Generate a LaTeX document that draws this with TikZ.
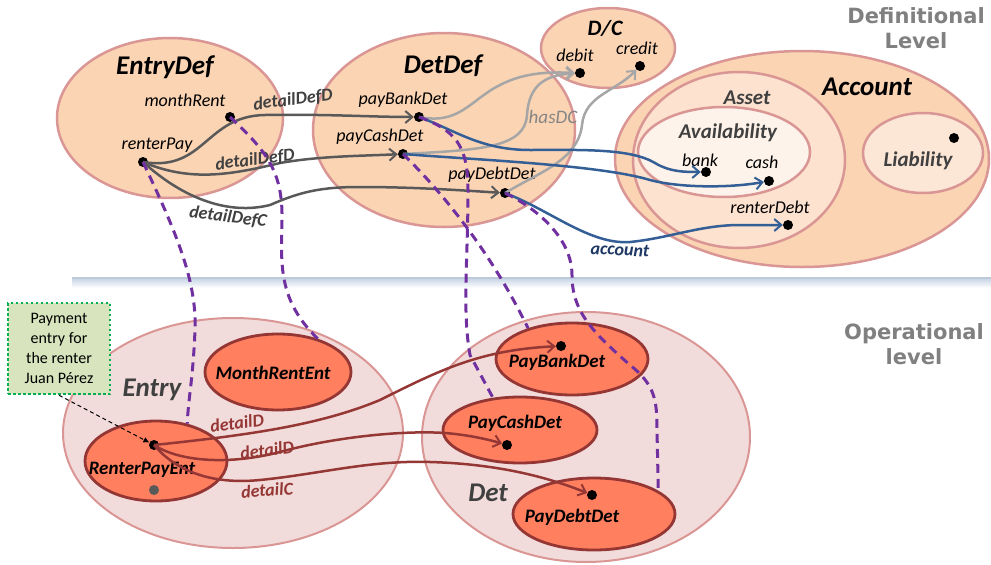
\documentclass[tikz,border=0pt]{standalone}
\usepackage{fontspec}
\setmainfont{Carlito}
\newfontfamily\levelfont{DejaVu Sans}
\usetikzlibrary{shapes.geometric,arrows.meta}
\definecolor{peach}{HTML}{FBD4B4}
\definecolor{assetfill}{HTML}{FCE2CF}
\definecolor{availfill}{HTML}{FEF3EA}
\definecolor{liabfill}{HTML}{FCE6D6}
\definecolor{rosy}{HTML}{D99694}
\definecolor{opfill}{HTML}{F2DCDB}
\definecolor{coral}{HTML}{FF7F5F}
\definecolor{darkred}{HTML}{943634}
\definecolor{conngrey}{HTML}{595959}
\definecolor{lightconn}{HTML}{A6A6A6}
\definecolor{connblue}{HTML}{335F96}
\definecolor{accblue}{HTML}{1F3864}
\definecolor{redconn}{HTML}{953735}
\definecolor{dashpurple}{HTML}{7030A0}
\definecolor{txtgrey}{HTML}{404040}
\definecolor{levelgrey}{HTML}{808080}
\definecolor{notefill}{HTML}{D7E4BD}
\definecolor{notegreen}{HTML}{00B050}
\definecolor{sepblue}{HTML}{C3D1E3}
\tikzset{
  ell/.style 2 args={ellipse,inner sep=0pt,minimum width=#1pt,minimum height=#2pt},
  topell/.style={draw=rosy,line width=2.5pt,fill=peach},
  opell/.style={draw=rosy,line width=2pt,fill=opfill},
  inell/.style={draw=darkred,line width=2.8pt,fill=coral},
  dot/.style={circle,fill=black,inner sep=0pt,minimum size=10pt},
  head/.style={font=\fontsize{27}{27}\selectfont\bfseries\itshape,inner sep=0pt},
  subhead/.style={font=\fontsize{21}{21}\selectfont\bfseries\itshape,inner sep=0pt,text=txtgrey},
  lbl/.style={font=\fontsize{18}{18}\selectfont\itshape,inner sep=0pt},
  conlbl/.style={font=\fontsize{18}{18}\selectfont\bfseries\itshape,inner sep=0pt},
  inlbl/.style={font=\fontsize{19}{19}\selectfont\bfseries\itshape,inner sep=0pt},
  barb/.style={-{Straight Barb[length=7pt,width=12pt,line width=2pt]}},
  greyconn/.style={barb,draw=conngrey,line width=2.5pt},
  lightc/.style={barb,draw=lightconn,line width=2.5pt},
  bluec/.style={barb,draw=connblue,line width=2.5pt},
  redc/.style={barb,draw=redconn,line width=2.5pt},
  typeof/.style={draw=dashpurple,line width=3pt,dash pattern=on 9pt off 6pt},
  level/.style={font=\fontsize{21}{25}\selectfont\levelfont\bfseries,text=levelgrey,align=center,inner sep=0pt}
}
\begin{document}
\begin{tikzpicture}[x=1pt,y=-1pt]
\useasboundingbox (0,0) rectangle (991,565);
% ---------- Definitional level ellipses
\node[topell,ell={226}{160}] (entrydef) at (170,118) {};
\node[topell,ell={262}{194}] (detdef) at (444,130) {};
\node[topell,ell={134}{80}] (dc) at (608,48) {};
\node[topell,ell={374}{216}] (account) at (802,159) {};
\node[draw=rosy,line width=2.5pt,fill=assetfill,ell={212}{176}] (asset) at (739,160) {};
\node[draw=rosy,line width=2.5pt,fill=availfill,ell={172}{90}] (avail) at (724,152) {};
\node[draw=rosy,line width=2.5pt,fill=liabfill,ell={120}{80}] (liab) at (923,153) {};
% headings
\node[head] (t_entrydef) at (165,67) {EntryDef};
\node[head] (t_detdef) at (443,66) {DetDef};
\node[head,font=\fontsize{22}{22}\selectfont\bfseries\itshape] (t_dc) at (605,28) {D/C};
\node[head] (t_account) at (867,87) {Account};
\node[subhead] (t_asset) at (747,98) {Asset};
\node[subhead] (t_avail) at (728,133) {Availability};
\node[subhead] (t_liab) at (918,161) {Liability};
% labels
\node[lbl] (l_monthRent) at (185,100) {monthRent};
\node[lbl] (l_renterPay) at (157,145) {renterPay};
\node[lbl] (l_payBankDet) at (403,100) {payBankDet};
\node[lbl] (l_payCashDet) at (380,137) {payCashDet};
\node[lbl] (l_payDebtDet) at (492,175) {payDebtDet};
\node[lbl] (l_debit) at (575,55) {debit};
\node[lbl] (l_credit) at (637,48) {credit};
\node[lbl] (l_bank) at (700,160) {bank};
\node[lbl] (l_cash) at (762,162) {cash};
\node[lbl] (l_renterDebt) at (770,207) {renterDebt};
% level titles
\node[level] (deflevel) at (916,28) {Definitional\\Level};
\node[level] (oplevel) at (914,344) {Operational\\level};
% ---------- separator
\shade[top color=sepblue,bottom color=white] (72,277.5) rectangle (991,288);
\draw[sepblue!90!gray,line width=1.2pt] (72,278) -- (991,278);
% ---------- Operational level ellipses
\node[opell,ell={340}{230}] (entry) at (233,433) {};
\node[opell,ell={328}{250}] (det) at (586,437) {};
\node[inell,ell={146}{76}] (mre) at (278,372) {};
\node[inell,ell={142}{80}] (rpe) at (156,461) {};
\node[inell,ell={152}{72}] (pbd) at (572,359) {};
\node[inell,ell={154}{66}] (pcd) at (520,430) {};
\node[inell,ell={162}{72}] (pdd) at (594,514) {};
\node[head,text=txtgrey] (t_entry) at (152,390) {Entry};
\node[head,text=txtgrey] (t_det) at (488,493) {Det};
\node[inlbl] (t_mre) at (273,373) {MonthRentEnt};
\node[inlbl] (t_rpe) at (142,470) {RenterPayEnt};
\node[inlbl] (t_pbd) at (557,362) {PayBankDet};
\node[inlbl] (t_pcd) at (515,423) {PayCashDet};
\node[inlbl] (t_pdd) at (572,517) {PayDebtDet};
% note
\node[draw=notegreen,fill=notefill,line width=2.5pt,dash pattern=on 2.5pt off 2.5pt,
      minimum width=102pt,minimum height=91pt,inner sep=0pt,align=center,
      font=\fontsize{16}{20}\selectfont] (note) at (59,348.5)
      {Payment\\entry for\\the renter\\Juan Pérez};
% ---------- dots
\node[dot] (monthRent) at (230,117) {};
\node[dot] (renterPay) at (143,162) {};
\node[dot] (payBankDet) at (419,117) {};
\node[dot] (payCashDet) at (403,154) {};
\node[dot] (payDebtDet) at (505,193) {};
\node[dot] (debit) at (580,73) {};
\node[dot] (credit) at (640,66) {};
\node[dot] (bank) at (706,172) {};
\node[dot] (cash) at (769,181) {};
\node[dot] (renterDebt) at (788,225) {};
\node[dot] (liabdot) at (954,138) {};
\node[dot] (rpeDot) at (154,445) {};
\node[dot,fill=conngrey] (rpeDot2) at (154,490) {};
\node[dot] (pbdDot) at (561,346) {};
\node[dot] (pcdDot) at (507,445) {};
\node[dot] (pddDot) at (592,495) {};
% ---------- detailDef connectors
\draw[greyconn] (renterPay.center) .. controls (205,172) and (205,116) .. (265,115)
   .. controls (330,114) and (370,117) .. (payBankDet);
\draw[greyconn] (renterPay.center) .. controls (190,182) and (230,175) .. (280,163)
   .. controls (320,156) and (360,156) .. (payCashDet);
\draw[greyconn] (renterPay.center) .. controls (185,200) and (230,215) .. (270,205)
   .. controls (300,192) and (320,187) .. (360,187)
   .. controls (420,187) and (470,191) .. (payDebtDet);
\node[conlbl,text=txtgrey,rotate=7] (lb_dd1) at (293,100) {detailDefD};
\node[conlbl,text=txtgrey,rotate=7] (lb_dd2) at (255,160) {detailDefD};
\node[conlbl,text=txtgrey,rotate=-7] (lb_dc) at (228,217) {detailDefC};
% ---------- hasDC connectors
\draw[lightc] (payBankDet.center) .. controls (460,125) and (470,100) .. (500,85)
   .. controls (525,72) and (550,72) .. (debit);
\draw[lightc] (payCashDet.center) .. controls (480,150) and (525,148) .. (527,115)
   .. controls (529,85) and (545,75) .. (debit);
\draw[lightc] (payDebtDet.center) .. controls (540,172) and (578,160) .. (582,125)
   .. controls (585,95) and (615,92) .. (credit);
\node[lbl,text=lightconn!80!black,font=\fontsize{19}{19}\selectfont\itshape] (lb_hasdc) at (553,117) {hasDC};
% ---------- account connectors
\draw[bluec] (payBankDet.center) .. controls (455,130) and (480,150) .. (530,150)
   .. controls (580,150) and (630,148) .. (655,163)
   .. controls (670,172) and (685,172) .. (bank);
\draw[bluec] (payCashDet.center) .. controls (480,160) and (600,165) .. (650,180)
   .. controls (680,188) and (730,188) .. (cash);
\draw[bluec] (payDebtDet.center) .. controls (550,210) and (590,245) .. (630,242)
   .. controls (670,238) and (700,225) .. (740,225)
   .. controls (760,225) and (770,225) .. (renterDebt);
\node[conlbl,text=accblue,rotate=-3] (lb_acc) at (620,250) {account};
% ---------- detail connectors (operational)
\draw[redc] (rpeDot.center) .. controls (250,435) and (320,425) .. (380,400)
   .. controls (440,370) and (480,350) .. (pbdDot);
\draw[redc] (rpeDot.center) .. controls (180,462) and (230,465) .. (280,452)
   .. controls (330,438) and (400,430) .. (445,433)
   .. controls (470,435) and (490,440) .. (pcdDot);
\draw[redc] (rpeDot.center) .. controls (175,470) and (210,485) .. (260,480)
   .. controls (320,474) and (370,460) .. (430,462)
   .. controls (500,464) and (550,478) .. (pddDot);
\node[conlbl,text=redconn,rotate=8] (lb_d1) at (237,423) {detailD};
\node[conlbl,text=redconn,rotate=8] (lb_d2) at (267,450) {detailD};
\node[conlbl,text=redconn,rotate=4] (lb_c1) at (267,490) {detailC};
% note arrow
\draw[-{Latex[length=6pt,width=6pt]},line width=1pt,dash pattern=on 4pt off 3pt] (note.south) -- (rpeDot);
% ---------- instance-of dashed connectors
\draw[typeof] (renterPay.center) .. controls (175,230) and (197,280) .. (195,330)
   .. controls (193,380) and (188,400) .. (rpe.50);
\draw[typeof] (monthRent.center) .. controls (265,150) and (283,170) .. (282,220)
   .. controls (281,265) and (278,300) .. (mre.40);
\draw[typeof] (payBankDet.center) .. controls (455,130) and (468,145) .. (468,190)
   .. controls (468,260) and (462,310) .. (470,355) -- (pcd.130);
\draw[typeof] (payCashDet.center) .. controls (440,190) and (490,250) .. (pbd.145);
\draw[typeof] (payDebtDet.center) .. controls (540,210) and (572,240) .. (572,275)
   .. controls (572,310) and (590,330) .. (630,365)
   .. controls (655,385) and (657,400) .. (657,430) -- (pdd.20);
\end{tikzpicture}
\end{document}
